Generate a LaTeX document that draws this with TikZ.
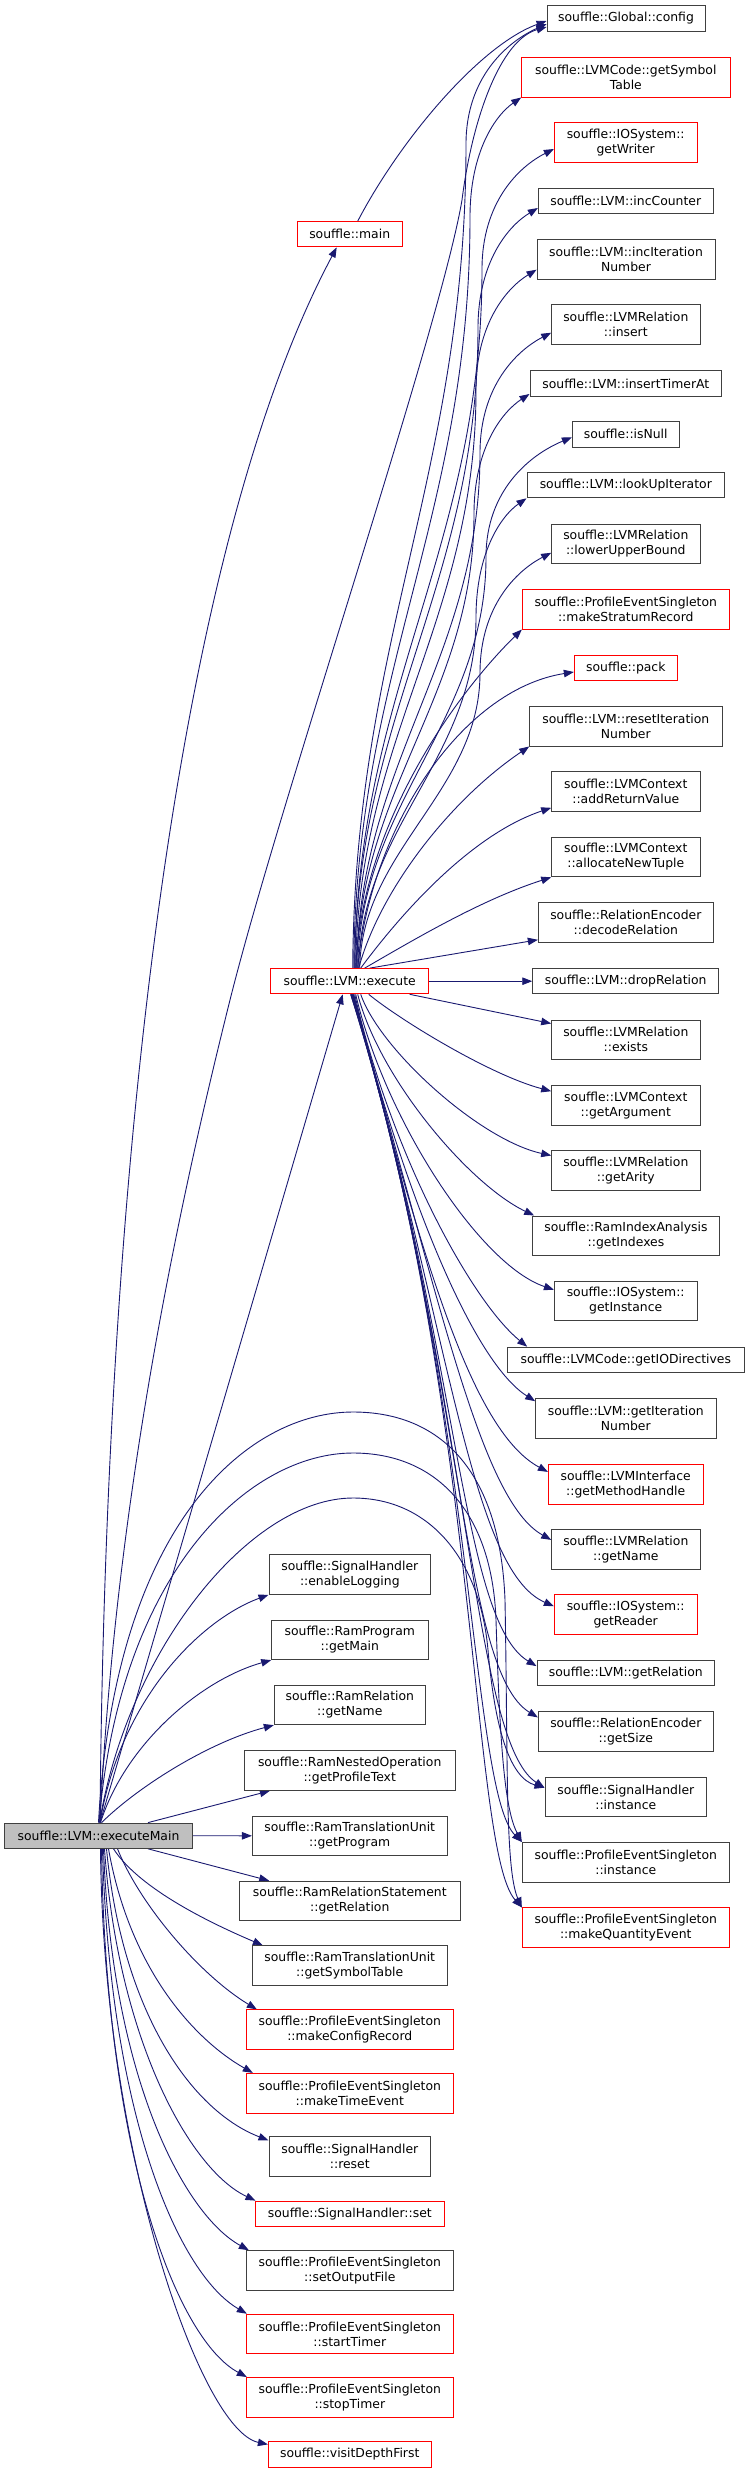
\documentclass[tikz,border=0pt]{standalone}
\usepackage{fontspec}
\newfontfamily\dvs{DejaVu Sans}
\usetikzlibrary{arrows.meta}
\definecolor{navy}{HTML}{191970}
\definecolor{bord}{HTML}{404040}
\definecolor{rootfill}{HTML}{BFBFBF}
\definecolor{truncred}{HTML}{FF0000}
\pgfdeclarelayer{bg}
\pgfsetlayers{bg,main}
\newcommand\upfar[5]{%
  \pgfmathsetmacro\UFyp{#3+120}%
  \pgfmathsetmacro\UFsx{349.7+#5}%
  \pgfmathsetmacro\UFsxx{349.7+#5+2}%
  \pgfmathsetmacro\UFca{968-0.4*(968-\UFyp)}%
  \pgfmathsetmacro\UFcb{\UFyp+0.4*(968-\UFyp)}%
  \pgfmathsetmacro\UFcc{\UFyp-0.55*(\UFyp-#3)}%
  \pgfmathsetmacro\UFcdx{#2-0.5*(#2-#4)}%
  \pgfmathsetmacro\UFcdy{#3+0.15*(\UFyp-#3)}%
  \draw[calledge] ([xshift=#5pt]ex.north) .. controls (\UFsxx,\UFca) and (#4,\UFcb) .. (#4,\UFyp) .. controls (#4,\UFcc) and (\UFcdx,\UFcdy) .. #1;%
}
\begin{document}
\begin{tikzpicture}[x=1pt,y=-1pt,
  fn/.style={draw=bord, fill=white, line width=0.9pt, inner sep=0pt, minimum height=25.3pt, align=center, font={\dvs\fontsize{12.4}{15}\selectfont}},
  two/.style={minimum height=39.7pt},
  trunc/.style={draw=truncred},
  root/.style={fill=rootfill},
  calledge/.style={draw=navy, line width=0.9pt, -{Triangle[length=10pt,width=7.5pt]}}]
\useasboundingbox (0,0) rectangle (749,2488);
% root
\node[fn, root, minimum width=187.7pt] (em) at (98.5,1835.7) {souffle::LVM::executeMain};
% middle column
\node[fn, trunc, minimum width=104.7pt] (mn) at (349.7,234.3) {souffle::main};
\node[fn, trunc, minimum width=158pt] (ex) at (349.7,981.2) {souffle::LVM::execute};
\node[fn, two, minimum width=161.7pt] (el) at (349.8,1574.5) {souffle::SignalHandler\\::enableLogging};
\node[fn, two, minimum width=156.3pt] (gm) at (349.8,1639.8) {souffle::RamProgram\\::getMain};
\node[fn, two, minimum width=151pt] (rgn) at (349.8,1704.8) {souffle::RamRelation\\::getName};
\node[fn, two, minimum width=210.7pt] (gpt) at (349.7,1770.5) {souffle::RamNestedOperation\\::getProfileText};
\node[fn, two, minimum width=194.7pt] (gp) at (349.7,1835.8) {souffle::RamTranslationUnit\\::getProgram};
\node[fn, two, minimum width=220.3pt] (rrs) at (349.8,1901) {souffle::RamRelationStatement\\::getRelation};
\node[fn, two, minimum width=194.7pt] (rst) at (349.7,1965.7) {souffle::RamTranslationUnit\\::getSymbolTable};
\node[fn, two, trunc, minimum width=207pt] (mcr) at (349.8,2029.7) {souffle::ProfileEventSingleton\\::makeConfigRecord};
\node[fn, two, trunc, minimum width=207pt] (mte) at (349.8,2093.2) {souffle::ProfileEventSingleton\\::makeTimeEvent};
\node[fn, two, minimum width=161.7pt] (rs) at (349.8,2156.7) {souffle::SignalHandler\\::reset};
\node[fn, trunc, minimum width=189.7pt] (set) at (349.8,2213.7) {souffle::SignalHandler::set};
\node[fn, two, minimum width=207pt] (sof) at (349.8,2270.5) {souffle::ProfileEventSingleton\\::setOutputFile};
\node[fn, two, trunc, minimum width=207pt] (stt) at (349.8,2334) {souffle::ProfileEventSingleton\\::startTimer};
\node[fn, two, trunc, minimum width=207pt] (stp) at (349.8,2397.3) {souffle::ProfileEventSingleton\\::stopTimer};
\node[fn, trunc, minimum width=162.7pt] (vdf) at (349.7,2454.5) {souffle::visitDepthFirst};
% right column
\node[fn, minimum width=158pt] (cfg) at (626,18.5) {souffle::Global::config};
\node[fn, two, trunc, minimum width=208.3pt] (gst) at (625.8,77.2) {souffle::LVMCode::getSymbol\\Table};
\node[fn, two, trunc, minimum width=142.7pt] (gw) at (625.7,142.5) {souffle::IOSystem::\\getWriter};
\node[fn, minimum width=175pt] (inc) at (625.8,201.2) {souffle::LVM::incCounter};
\node[fn, two, minimum width=178pt] (iin) at (626,259.7) {souffle::LVM::incIteration\\Number};
\node[fn, two, minimum width=148.3pt] (ins) at (625.8,324.7) {souffle::LVMRelation\\::insert};
\node[fn, minimum width=191.7pt] (ita) at (625.8,383.5) {souffle::LVM::insertTimerAt};
\node[fn, minimum width=106.7pt] (isn) at (625.7,434.3) {souffle::isNull};
\node[fn, minimum width=197.7pt] (lui) at (625.8,485.2) {souffle::LVM::lookUpIterator};
\node[fn, two, minimum width=148.3pt] (lub) at (625.8,543.8) {souffle::LVMRelation\\::lowerUpperBound};
\node[fn, two, trunc, minimum width=207pt] (msr) at (625.8,609.2) {souffle::ProfileEventSingleton\\::makeStratumRecord};
\node[fn, trunc, minimum width=103pt] (pk) at (625.8,667.7) {souffle::pack};
\node[fn, two, minimum width=192.3pt] (rin) at (625.8,726.2) {souffle::LVM::resetIteration\\Number};
\node[fn, two, minimum width=148.3pt] (arv) at (625.8,791.5) {souffle::LVMContext\\::addReturnValue};
\node[fn, two, minimum width=148.3pt] (ant) at (625.8,857) {souffle::LVMContext\\::allocateNewTuple};
\node[fn, two, minimum width=175pt] (dr) at (625.8,922.5) {souffle::RelationEncoder\\::decodeRelation};
\node[fn, minimum width=186pt] (drp) at (625.7,981.2) {souffle::LVM::dropRelation};
\node[fn, two, minimum width=148.3pt] (exi) at (625.8,1039.8) {souffle::LVMRelation\\::exists};
\node[fn, two, minimum width=148.3pt] (ga) at (625.8,1105.2) {souffle::LVMContext\\::getArgument};
\node[fn, two, minimum width=148.3pt] (gar) at (625.8,1170.5) {souffle::LVMRelation\\::getArity};
\node[fn, two, minimum width=186.7pt] (gi) at (626,1235.8) {souffle::RamIndexAnalysis\\::getIndexes};
\node[fn, two, minimum width=142.7pt] (gin) at (625.7,1301) {souffle::IOSystem::\\getInstance};
\node[fn, minimum width=236.3pt] (giod) at (625.8,1359.8) {souffle::LVMCode::getIODirectives};
\node[fn, two, minimum width=180.3pt] (gitn) at (625.8,1418.5) {souffle::LVM::getIteration\\Number};
\node[fn, two, trunc, minimum width=154.7pt] (gmh) at (625.7,1484.2) {souffle::LVMInterface\\::getMethodHandle};
\node[fn, two, minimum width=148.3pt] (lgn) at (625.8,1549.2) {souffle::LVMRelation\\::getName};
\node[fn, two, trunc, minimum width=142.7pt] (grd) at (625.7,1614.5) {souffle::IOSystem::\\getReader};
\node[fn, minimum width=177.7pt] (grel) at (625.8,1673.2) {souffle::LVM::getRelation};
\node[fn, two, minimum width=175pt] (gsz) at (625.8,1731.7) {souffle::RelationEncoder\\::getSize};
\node[fn, two, minimum width=161.7pt] (shi) at (625.8,1797) {souffle::SignalHandler\\::instance};
\node[fn, two, minimum width=207pt] (pesi) at (625.8,1862.3) {souffle::ProfileEventSingleton\\::instance};
\node[fn, two, trunc, minimum width=207pt] (mqe) at (625.8,1927.7) {souffle::ProfileEventSingleton\\::makeQuantityEvent};
\begin{pgfonlayer}{bg}
% executeMain -> middle
\draw[calledge] ([xshift=1.5pt]em.north) .. controls (105,1200) and (170,560) .. ([xshift=-13pt]mn.south);
\draw[calledge] ([xshift=1.5pt]em.north) -- ([xshift=-7pt]ex.south);
\draw[calledge] ([xshift=1.5pt]em.north) .. controls (115,1500) and (180,1200) .. (230,1000) .. controls (280,800) and (440,330) .. (462,200) .. controls (472,120) and (500,40) .. ([yshift=-8.5pt]cfg.west);
\draw[calledge] ([xshift=1.5pt]em.north) .. controls (120,1700) and (200,1620) .. (el.south west);
\draw[calledge] ([xshift=2pt]em.north) .. controls (125,1745) and (200,1680) .. (gm.south west);
\draw[calledge] ([xshift=3pt]em.north) .. controls (140,1785) and (210,1742) .. (rgn.south west);
\draw[calledge] ([xshift=49.5pt]em.north) -- ([xshift=26pt]gpt.south west);
\draw[calledge] (em.east) -- (gp.west);
\draw[calledge] ([xshift=49.5pt]em.south) -- ([xshift=30pt]rrs.north west);
\draw[calledge] ([xshift=15pt]em.south) .. controls (140,1890) and (215,1925) .. ([xshift=11pt]rst.north west);
\draw[calledge] ([xshift=19pt]em.south) .. controls (140,1905) and (200,1975) .. ([xshift=11pt]mcr.north west);
\draw[calledge] ([xshift=10pt]em.south) .. controls (130,1970) and (195,2040) .. ([xshift=7pt]mte.north west);
\draw[calledge] ([xshift=8pt]em.south) .. controls (122,2010) and (190,2110) .. ([yshift=-4pt]rs.north west);
\draw[calledge] ([xshift=6pt]em.south) .. controls (118,2040) and (190,2170) .. ([xshift=1pt]set.north west);
\draw[calledge] ([xshift=5pt]em.south) .. controls (112,2080) and (185,2215) .. ([xshift=3pt]sof.north west);
\draw[calledge] ([xshift=4pt]em.south) .. controls (110,2120) and (180,2275) .. ([xshift=1pt]stt.north west);
\draw[calledge] ([xshift=3pt]em.south) .. controls (106,2160) and (178,2340) .. ([xshift=1pt]stp.north west);
\draw[calledge] ([xshift=2pt]em.south) .. controls (103,2150) and (200,2430) .. ([yshift=-3pt]vdf.north west);
% executeMain -> right column arches
\draw[calledge] (em.north) .. controls (115,1520) and (250,1412) .. (353,1412) .. controls (440,1412) and (500,1470) .. (505,1600) .. controls (508,1760) and (505,1870) .. (mqe.north west);
\draw[calledge] ([xshift=0.5pt]em.north) .. controls (120,1570) and (250,1453) .. (353,1453) .. controls (435,1453) and (492,1510) .. (496,1620) .. controls (500,1750) and (505,1810) .. (pesi.north west);
\draw[calledge] ([xshift=1pt]em.north) .. controls (128,1650) and (250,1498) .. (353,1498) .. controls (430,1498) and (480,1560) .. (488,1650) .. controls (495,1730) and (510,1778) .. ([yshift=-11pt]shi.north west);
% main -> config
\draw[calledge] ([xshift=8pt]mn.north) .. controls (400,140) and (480,45) .. ([yshift=-2.5pt]cfg.west);
% execute -> upper far
\upfar{([yshift=-5.5pt]cfg.west)}{547}{24}{466}{3}
\upfar{(gst.south west)}{521.7}{97}{470}{4}
\upfar{([yshift=-6.5pt]gw.west)}{554.3}{149}{482}{5}
\upfar{([yshift=-6.8pt]inc.west)}{538.3}{208}{478}{5}
\upfar{([yshift=-10pt]iin.west)}{537}{270}{476}{6}
\upfar{([yshift=-8pt]ins.west)}{551.7}{333}{480}{7}
\upfar{([yshift=-10.5pt]ita.west)}{530}{394}{474}{7}
\upfar{([yshift=-3pt]isn.west)}{572.3}{437}{486}{8}
\upfar{(lui.south west)}{527}{497.7}{476}{9}
\upfar{([yshift=-9pt]lub.west)}{551.7}{553}{480}{10}
% execute -> upper mid
\draw[calledge] ([xshift=6pt]ex.north) .. controls (362,820) and (460,690) .. (msr.south west);
\draw[calledge] ([xshift=8pt]ex.north) .. controls (370,830) and (460,690) .. ([yshift=-4.3pt]pk.west);
\draw[calledge] ([xshift=9pt]ex.north) .. controls (380,890) and (450,800) .. (rin.south west);
\draw[calledge] ([xshift=11pt]ex.north) .. controls (400,915) and (470,835) .. ([yshift=4pt]arv.south west);
\draw[calledge] ([xshift=15pt]ex.north) .. controls (410,942) and (480,900) .. (ant.south west);
\draw[calledge] ([xshift=20pt]ex.north) -- ([yshift=3pt]dr.south west);
\draw[calledge] (ex.east) -- (drp.west);
\draw[calledge] ([xshift=60pt]ex.south) -- ([yshift=-4pt]exi.north west);
% execute -> lower
\draw[calledge] ([xshift=19pt]ex.south) .. controls (400,1020) and (490,1075) .. ([yshift=14pt]ga.west);
\draw[calledge] ([xshift=11pt]ex.south) .. controls (380,1050) and (480,1140) .. ([yshift=15pt]gar.west);
\draw[calledge] ([xshift=8pt]ex.south) .. controls (380,1080) and (470,1185) .. ([xshift=2pt]gi.north west);
\draw[calledge] ([xshift=6pt]ex.south) .. controls (385,1120) and (480,1265) .. ([yshift=-9pt]gin.north west);
\draw[calledge] ([xshift=5pt]ex.south) .. controls (390,1150) and (470,1300) .. ([xshift=20pt]giod.north west);
\draw[calledge] ([xshift=4pt]ex.south) .. controls (400,1180) and (470,1360) .. ([yshift=-3pt]gitn.north west);
\draw[calledge] ([xshift=3.5pt]ex.south) .. controls (420,1250) and (470,1430) .. ([yshift=-8pt]gmh.north west);
\draw[calledge] ([xshift=3pt]ex.south) .. controls (440,1300) and (480,1500) .. ([yshift=-11pt]lgn.north west);
\draw[calledge] ([xshift=2.5pt]ex.south) .. controls (450,1330) and (470,1570) .. ([yshift=-12pt]grd.north west);
\draw[calledge] ([xshift=2pt]ex.south) .. controls (460,1350) and (460,1620) .. ([yshift=-6pt]grel.north west);
\draw[calledge] ([xshift=2pt]ex.south) .. controls (465,1370) and (460,1670) .. ([yshift=-6pt]gsz.north west);
\draw[calledge] ([xshift=1.5pt]ex.south) .. controls (470,1380) and (470,1740) .. ([yshift=-11pt]shi.north west);
\draw[calledge] ([xshift=1pt]ex.south) .. controls (475,1390) and (470,1790) .. (pesi.north west);
\draw[calledge] ([xshift=1pt]ex.south) .. controls (480,1400) and (470,1850) .. (mqe.north west);
\end{pgfonlayer}
\end{tikzpicture}
\end{document}
